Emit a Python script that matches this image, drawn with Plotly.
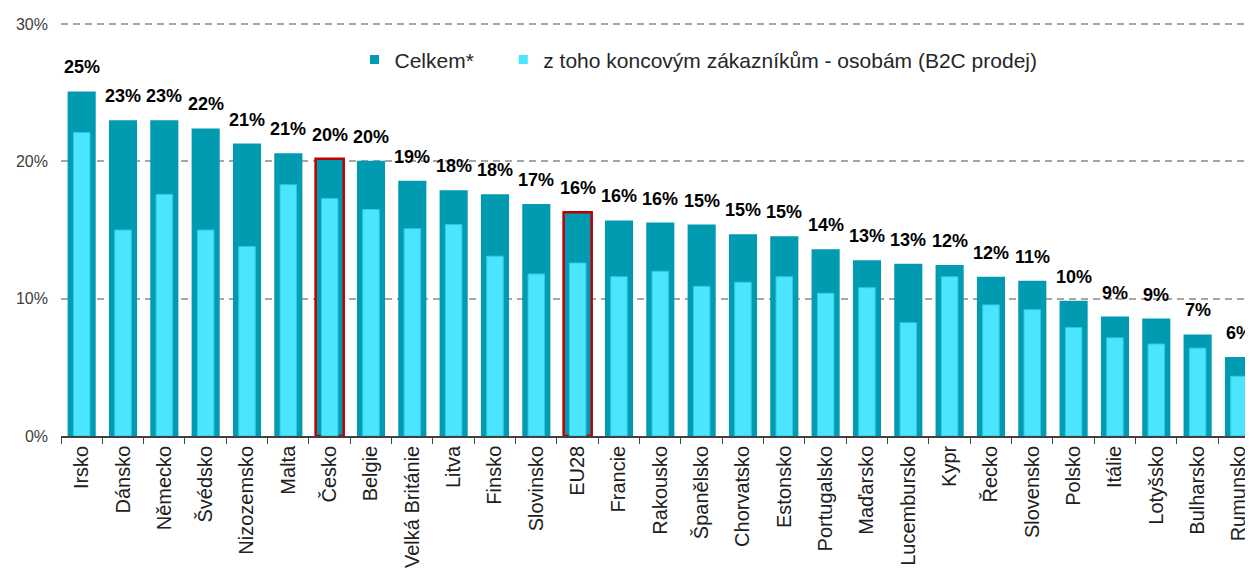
import plotly.graph_objects as go

categories = ["Irsko", "Dánsko", "Německo", "Švédsko", "Nizozemsko", "Malta", "Česko", "Belgie",
              "Velká Británie", "Litva", "Finsko", "Slovinsko", "EU28", "Francie", "Rakousko",
              "Španělsko", "Chorvatsko", "Estonsko", "Portugalsko", "Maďarsko", "Lucembursko",
              "Kypr", "Řecko", "Slovensko", "Polsko", "Itálie", "Lotyšsko", "Bulharsko", "Rumunsko"]

celkem = [25.1, 23.0, 23.0, 22.4, 21.3, 20.6, 20.2, 20.05,
          18.6, 17.9, 17.6, 16.9, 16.3, 15.7, 15.55,
          15.4, 14.7, 14.55, 13.6, 12.8, 12.55,
          12.45, 11.6, 11.3, 9.85, 8.7, 8.55, 7.4, 5.75]

b2c = [22.1, 15.0, 17.6, 15.0, 13.8, 18.3, 17.3, 16.5,
       15.1, 15.4, 13.1, 11.8, 12.6, 11.6, 12.0,
       10.9, 11.2, 11.6, 10.4, 10.8, 8.25,
       11.6, 9.55, 9.2, 7.9, 7.15, 6.7, 6.4, 4.35]

highlighted = ["Česko", "EU28"]

y_ticks = [0, 10, 20, 30]
y_tick_labels = ["0%", "10%", "20%", "30%"]

DARK = "#009BB1"
LIGHT = "#4BE5FF"
RED = "#C00000"
FONT = "Liberation Sans, Arial, sans-serif"

Y_MAX = 30.3
PLOT_H = 13.8 * Y_MAX

fig = go.Figure()

fig.add_trace(go.Bar(
    x=categories, y=celkem, width=0.68,
    marker=dict(color=DARK,
                line=dict(color=[RED if c in highlighted else DARK for c in categories],
                          width=[2.5 if c in highlighted else 0 for c in categories])),
    showlegend=False, name="Celkem*",
))
fig.add_trace(go.Bar(
    x=categories, y=b2c, width=0.40,
    marker=dict(color=LIGHT, line=dict(color="#2CCBE2", width=1)),
    showlegend=False, name="z toho koncovým zákazníkům - osobám (B2C prodej)",
))

# legend entries
fig.add_trace(go.Scatter(x=[None], y=[None], mode="markers", name="Celkem*",
                         marker=dict(symbol="square", size=9, color=DARK), legend="legend"))
fig.add_trace(go.Scatter(x=[None], y=[None], mode="markers",
                         name="z toho koncovým zákazníkům - osobám (B2C prodej)",
                         marker=dict(symbol="square", size=9, color=LIGHT), legend="legend2"))

for c, v in zip(categories, celkem):
    fig.add_annotation(x=c, y=v, text=f"{round(v)}%", showarrow=False,
                       yanchor="bottom", xanchor="center", yshift=12,
                       font=dict(family=FONT, size=18, color="#000000", weight="bold"))

legend_common = dict(orientation="h", xanchor="left", yanchor="middle",
                     y=(436 - 58) / PLOT_H,
                     font=dict(family=FONT, size=21, color="#262626"),
                     bgcolor="rgba(0,0,0,0)", itemclick=False, itemdoubleclick=False)

fig.update_layout(
    width=1253, height=576,
    margin=dict(l=51, r=8, t=round(428 - PLOT_H), b=148),
    barmode="overlay",
    plot_bgcolor="white", paper_bgcolor="white",
    font=dict(family=FONT, color="#262626"),
    legend=dict(x=(353 - 59) / 1194, **legend_common),
    legend2=dict(x=(502 - 59) / 1194, **legend_common),
    xaxis=dict(type="category", range=[-0.5, 28.34],
               tickangle=-90, tickfont=dict(family=FONT, size=20, color="#202020"),
               ticks="outside", tickson="boundaries", ticklen=6, tickcolor="#404040",
               showline=True, linecolor="#404040", linewidth=1.5,
               showgrid=False, fixedrange=True),
    yaxis=dict(range=[0, Y_MAX], tickvals=y_ticks, ticktext=y_tick_labels,
               tickfont=dict(family=FONT, size=16, color="#404040"),
               showgrid=True, gridcolor="#A6A6A6", gridwidth=2, griddash="7px,5px",
               zeroline=False, showline=False, ticks="", ticklabelstandoff=12,
               fixedrange=True),
)

fig.write_html("out.html")
